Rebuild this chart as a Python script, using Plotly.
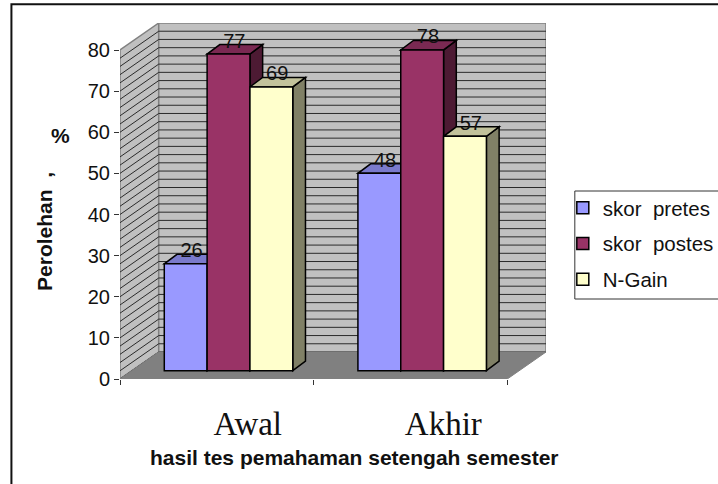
import plotly.graph_objects as go

# ---- data ----
categories = ["Awal", "Akhir"]
series_names = ["skor\u00a0\u00a0pretes", "skor\u00a0\u00a0postes", "N-Gain"]
skor_pretes = [26, 48]
skor_postes = [77, 78]
n_gain = [69, 57]
y_ticks = [0, 10, 20, 30, 40, 50, 60, 70, 80]
grid_values = list(range(0, 81, 2))

front_colors = ["#9999FF", "#993366", "#FFFFCC"]
top_colors = ["#7A7ACC", "#7A2952", "#C2C29B"]
side_colors = ["#4D4D80", "#4D1A33", "#808066"]

# ---- layout (pixels) ----
W, H = 718, 484
L, R, T, B = 120.0, 545.7, 23.0, 379.0
X_PER_UNIT = (507.0 - 120.0) / 2
Y_PER_UNIT = (379.0 - 50.0) / 80
DX = (R - 507.0) / X_PER_UNIT      # depth of the floor, x units
DY = (379.0 - 352.0) / Y_PER_UNIT  # depth of the floor, y units
BASE = 8.3 / Y_PER_UNIT            # bars stand back from the front edge
SHIFT = 11.7 / X_PER_UNIT
BAR_W = 42.8 / X_PER_UNIT
BAR_DX = 12.7 / X_PER_UNIT
BAR_DY = 9.5 / Y_PER_UNIT

def px(x):
    return (x - L) / (R - L)

def py(y):
    return (B - y) / (B - T)

def poly(points):
    return "M" + " L".join(f"{a},{b}" for a, b in points) + " Z"

shapes = []

def face(points, fill, line=None, width=1):
    shapes.append(dict(type="path", path=poly(points), xref="x", yref="y", layer="below",
                       fillcolor=fill, line=dict(color=line or fill, width=width)))

# walls and floor
face([(0, 0), (DX, DY), (DX, 80 + DY), (0, 80)], "#C0C0C0", "#808080", 1.5)
face([(DX, DY), (2 + DX, DY), (2 + DX, 80 + DY), (DX, 80 + DY)], "#C0C0C0", "#808080", 1.5)
for v in grid_values[:-1]:
    shapes.append(dict(type="line", xref="x", yref="y", layer="below", x0=DX, x1=2 + DX,
                       y0=v + DY, y1=v + DY, line=dict(color="#2a2a2a", width=1)))
    shapes.append(dict(type="line", xref="x", yref="y", layer="below", x0=0, x1=DX,
                       y0=v, y1=v + DY, line=dict(color="#2a2a2a", width=1)))
face([(0, 0), (2, 0), (2 + DX, DY), (DX, DY)], "#808080", "#808080", 1)

# depth faces of the bars
all_series = [skor_pretes, skor_postes, n_gain]
for c in range(len(categories)):
    for s, values in enumerate(all_series):
        v = values[c] + BASE
        x0 = c + 0.5 + SHIFT + (s - 1.5) * BAR_W
        x1 = x0 + BAR_W
        face([(x1, BASE), (x1 + BAR_DX, BASE + BAR_DY), (x1 + BAR_DX, v + BAR_DY), (x1, v)],
             side_colors[s], "#000000", 1.5)
        face([(x0, v), (x1, v), (x1 + BAR_DX, v + BAR_DY), (x0 + BAR_DX, v + BAR_DY)],
             top_colors[s], "#000000", 1.5)

# outer frame and legend frame, running off the page on the right
shapes.append(dict(type="rect", xref="paper", yref="paper", x0=px(11.5), x1=px(740),
                   y0=py(4.3), y1=py(510), layer="above", line=dict(color="#111111", width=2)))
shapes.append(dict(type="rect", xref="paper", yref="paper", x0=px(574.5), x1=px(740),
                   y0=py(191), y1=py(299), layer="below", line=dict(color="#333333", width=1)))

fig = go.Figure()
x_pos = [i + 0.5 + SHIFT for i in range(len(categories))]
for s, values in enumerate(all_series):
    fig.add_trace(go.Bar(
        x=x_pos, y=values, base=[BASE] * len(values), name=series_names[s],
        legendgroup=f"g{s}",
        marker=dict(color=front_colors[s], line=dict(color="#000000", width=1.5)),
    ))

label_x, label_y, label_t = [], [], []
for s, values in enumerate(all_series):
    for c, v in enumerate(values):
        label_x.append(x_pos[c] + (s - 1) * BAR_W + 0.03)
        label_y.append(v + BASE + 2.8)
        label_t.append(str(v))
fig.add_trace(go.Scatter(x=label_x, y=label_y, text=label_t, mode="text", showlegend=False,
                         textposition="middle center", cliponaxis=False,
                         textfont=dict(family="Liberation Sans", size=20, color="#111111")))

ann_font = dict(size=21, family="Liberation Sans", color="#111111")
fig.update_layout(
    width=W, height=H, autosize=False,
    margin=dict(l=L, r=W - R, t=T, b=H - B, autoexpand=False),
    paper_bgcolor="white", plot_bgcolor="white",
    barmode="group", bargap=1 - 3 * BAR_W, bargroupgap=0,
    shapes=shapes,
    showlegend=True,
    legend=dict(x=px(562.5), y=py(188), xanchor="left", yanchor="top", bgcolor="rgba(0,0,0,0)",
                font=dict(family="Liberation Sans", size=20.5, color="#111111"),
                tracegroupgap=6, traceorder="grouped"),
    font=dict(family="Liberation Sans", color="#111111"),
    xaxis=dict(range=[0, 2 + DX], tickmode="array", tickvals=[0.66, 1.67], ticktext=categories,
               ticks="", showgrid=False, zeroline=False, showline=False, fixedrange=True,
               tickfont=dict(family="Liberation Serif", size=33, color="#111111"),
               ticklabelstandoff=22,
               minor=dict(tickmode="array", tickvals=[0, 1, 2], ticks="outside", ticklen=5,
                          tickcolor="#333333", tickwidth=1, showgrid=False)),
    yaxis=dict(range=[0, (B - T) / Y_PER_UNIT], tickmode="array", tickvals=y_ticks,
               ticks="outside", ticklen=5, tickcolor="#333333", tickwidth=1, showgrid=False,
               zeroline=False, showline=False, fixedrange=True,
               tickfont=dict(family="Liberation Sans", size=20, color="#111111")),
    annotations=[
        dict(text="<b>hasil tes pemahaman setengah semester</b>", xref="paper", yref="paper",
             x=px(354), y=py(457), xanchor="center", yanchor="middle", showarrow=False, font=ann_font),
        dict(text="<b>Perolehan\u00a0\u00a0,</b>", xref="paper", yref="paper", x=px(44), y=py(231),
             xanchor="center", yanchor="middle", showarrow=False, textangle=-90, font=ann_font),
        dict(text="<b>%</b>", xref="paper", yref="paper", x=px(61), y=py(135),
             xanchor="center", yanchor="middle", showarrow=False, font=ann_font),
    ],
)
fig.write_html("out.html", config=dict(displayModeBar=False),
               post_script="document.body.style.margin='0';")
